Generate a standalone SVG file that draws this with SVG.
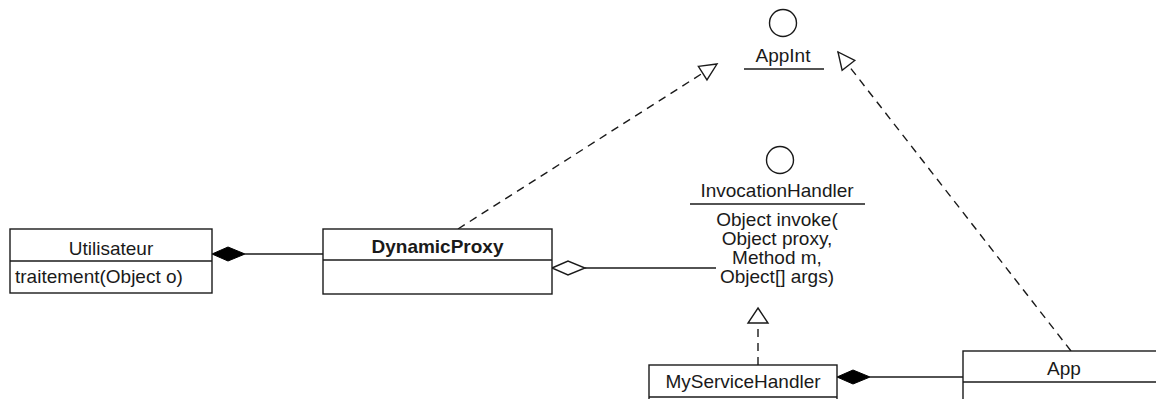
<svg xmlns="http://www.w3.org/2000/svg" width="1156" height="399" viewBox="0 0 1156 399">
  <style>
    .box { fill: #ffffff; stroke: #1a1a1a; stroke-width: 1.4; }
    .sep { stroke: #1a1a1a; stroke-width: 1.4; }
    .iface { fill: #ffffff; stroke: #1a1a1a; stroke-width: 1.4; }
    .t { font-family: "Liberation Sans", Arial, sans-serif; font-size: 19px; fill: #1a1a1a; }
    .c { text-anchor: middle; }
    .b { font-weight: bold; }
    .assoc { stroke: #1a1a1a; stroke-width: 1.4; fill: none; }
    .real { stroke: #1a1a1a; stroke-width: 1.4; fill: none; stroke-dasharray: 8 6; }
    .filled { fill: #000000; stroke: #000000; stroke-width: 1; }
    .hollow { fill: #ffffff; stroke: #1a1a1a; stroke-width: 1.4; }
  </style>
  <defs>
    <marker id="realize" markerUnits="userSpaceOnUse" markerWidth="20" markerHeight="18" refX="17" refY="8" orient="auto" overflow="visible">
      <path d="M0,0 L17,8 L0,16 Z" fill="#ffffff" stroke="#1a1a1a" stroke-width="1.4"/>
    </marker>
  </defs>
  <rect width="1156" height="399" fill="#ffffff"/>

  <!-- connectors -->
  <g id="connectors">
    <!-- Utilisateur composes DynamicProxy -->
    <line class="assoc" x1="245" y1="254" x2="323" y2="254"/>
    <path class="filled" d="M212,254 L228,247 L245,254 L228,261 Z"/>
    <!-- DynamicProxy aggregates InvocationHandler -->
    <line class="assoc" x1="585" y1="268" x2="716" y2="268"/>
    <path class="hollow" d="M552,268 L568,261 L585,268 L568,275 Z"/>
    <!-- DynamicProxy realizes AppInt -->
    <line class="real" x1="458" y1="229" x2="717" y2="64" marker-end="url(#realize)"/>
    <!-- App realizes AppInt -->
    <line class="real" x1="1071" y1="351" x2="838" y2="52" marker-end="url(#realize)"/>
    <!-- MyServiceHandler realizes InvocationHandler -->
    <line class="real" x1="758" y1="365" x2="758" y2="323"/>
    <path class="hollow" d="M758,308 L768,323 L748,323 Z"/>
    <!-- App composes MyServiceHandler -->
    <line class="assoc" x1="870" y1="377" x2="963" y2="377"/>
    <path class="filled" d="M837,377 L853,370 L870,377 L853,384 Z"/>
  </g>

  <!-- interface AppInt -->
  <g id="AppInt">
    <circle class="iface" cx="783" cy="23" r="13.5"/>
    <text class="t c" x="783" y="62">AppInt</text>
    <line class="sep" x1="744" y1="69" x2="824" y2="69"/>
  </g>

  <!-- interface InvocationHandler -->
  <g id="InvocationHandler">
    <circle class="iface" cx="780" cy="160" r="13.5"/>
    <text class="t c" x="777" y="197">InvocationHandler</text>
    <line class="sep" x1="690" y1="204" x2="865" y2="204"/>
    <text class="t c" x="777" y="226">Object invoke(</text>
    <text class="t c" x="777" y="245">Object proxy,</text>
    <text class="t c" x="777" y="264">Method m,</text>
    <text class="t c" x="777" y="283">Object[] args)</text>
  </g>

  <!-- class Utilisateur -->
  <g id="Utilisateur">
    <rect class="box" x="10" y="229" width="202" height="64"/>
    <line class="sep" x1="10" y1="261" x2="212" y2="261"/>
    <text class="t c" x="111" y="255">Utilisateur</text>
    <text class="t" x="15" y="283">traitement(Object o)</text>
  </g>

  <!-- class DynamicProxy -->
  <g id="DynamicProxy">
    <rect class="box" x="323" y="229" width="229" height="65"/>
    <line class="sep" x1="323" y1="260" x2="552" y2="260"/>
    <text class="t c b" x="437.5" y="253">DynamicProxy</text>
  </g>

  <!-- class MyServiceHandler -->
  <g id="MyServiceHandler">
    <rect class="box" x="649" y="365" width="188" height="60"/>
    <line class="sep" x1="649" y1="397" x2="837" y2="397"/>
    <text class="t c" x="743" y="388">MyServiceHandler</text>
  </g>

  <!-- class App -->
  <g id="App">
    <rect class="box" x="963" y="351" width="206" height="70"/>
    <line class="sep" x1="963" y1="382" x2="1169" y2="382"/>
    <text class="t c" x="1064" y="375">App</text>
  </g>
</svg>
